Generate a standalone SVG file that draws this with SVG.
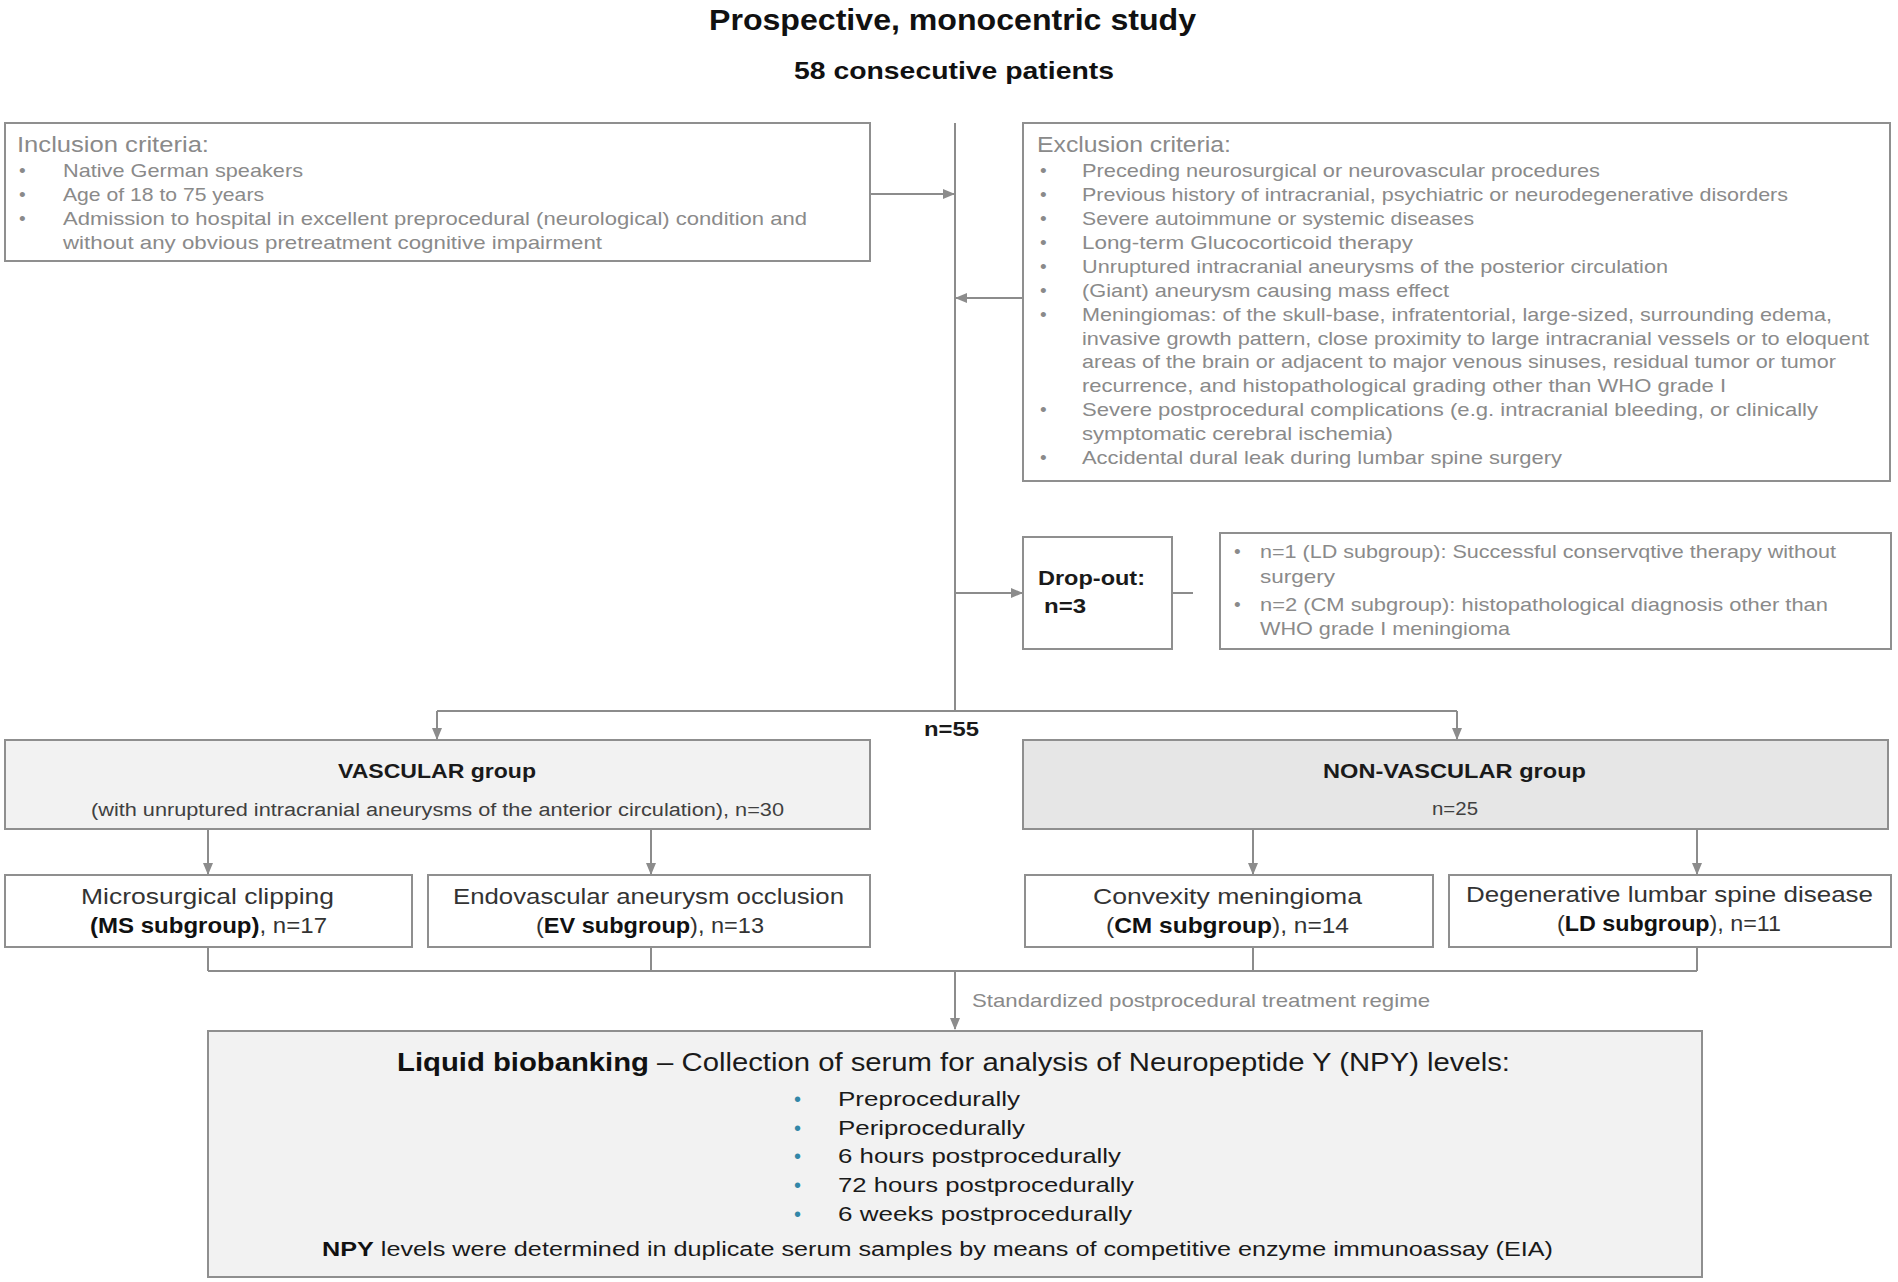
<svg xmlns="http://www.w3.org/2000/svg" width="1898" height="1282" viewBox="0 0 1898 1282">
<style>
  text { font-family: "Liberation Sans", Arial, sans-serif; }
  .box { fill: #ffffff; stroke: #8f8f8f; stroke-width: 2; }
  .grey1 { fill: #f2f2f2; }
  .grey2 { fill: #e6e6e6; }
  .conn { fill: none; stroke: #8c8c8c; stroke-width: 2; }
  .g { fill: #8a8a8a; font-size: 19px; }
  .gh { fill: #8a8a8a; font-size: 22px; }
  .title { fill: #111111; font-weight: bold; }
  .hb { fill: #1a1a1a; font-weight: bold; font-size: 21px; }
  .sub { fill: #404040; font-size: 18px; }
  .sg { fill: #333333; font-size: 22px; }
  .b { font-weight: bold; fill: #111111; }
  .bt { fill: #1a1a1a; font-size: 25px; }
  .bi { fill: #1a1a1a; font-size: 21px; }
  .bul { fill: #3287a8; font-size: 20px; }
  .ft { fill: #1a1a1a; font-size: 20px; }
</style>
<defs>
  <marker id="arr" markerWidth="12" markerHeight="10" refX="11" refY="5" orient="auto" markerUnits="userSpaceOnUse">
    <path d="M0,0 L12,5 L0,10 Z" fill="#8c8c8c"/>
  </marker>
</defs>
<rect width="1898" height="1282" fill="#ffffff"/>

<g id="title">
  <text class="title" x="709" y="30" font-size="30" textLength="487" lengthAdjust="spacingAndGlyphs">Prospective, monocentric study</text>
  <text class="title" x="794" y="79" font-size="24" textLength="320" lengthAdjust="spacingAndGlyphs">58 consecutive patients</text>
</g>

<g id="connectors">
  <path class="conn" d="M955 123 V711"/>
  <path class="conn" d="M870 194 H954" marker-end="url(#arr)"/>
  <path class="conn" d="M1023 298 H956" marker-end="url(#arr)"/>
  <path class="conn" d="M955 593 H1022" marker-end="url(#arr)"/>
  <path class="conn" d="M1172 593 H1193"/>
  <path class="conn" d="M437 711 H1457"/>
  <path class="conn" d="M437 711 V739" marker-end="url(#arr)"/>
  <path class="conn" d="M1457 711 V739" marker-end="url(#arr)"/>
  <path class="conn" d="M208 829 V874" marker-end="url(#arr)"/>
  <path class="conn" d="M651 829 V874" marker-end="url(#arr)"/>
  <path class="conn" d="M1253 829 V874" marker-end="url(#arr)"/>
  <path class="conn" d="M1697 829 V874" marker-end="url(#arr)"/>
  <path class="conn" d="M208 947 V971 M651 947 V971 M1253 947 V971 M1697 947 V971 M208 971 H1697"/>
  <path class="conn" d="M955 971 V1029" marker-end="url(#arr)"/>
  <text class="g" x="972" y="1007" font-size="18" textLength="458" lengthAdjust="spacingAndGlyphs">Standardized postprocedural treatment regime</text>
  <text class="hb" x="924" y="736" textLength="55" lengthAdjust="spacingAndGlyphs">n=55</text>
</g>

<g id="inclusion">
  <rect class="box" x="5" y="123" width="865" height="138"/>
  <text class="gh" x="17" y="152" textLength="192" lengthAdjust="spacingAndGlyphs">Inclusion criteria:</text>
  <text class="g" x="19" y="177">•</text>
  <text class="g" x="19" y="201">•</text>
  <text class="g" x="19" y="225">•</text>
  <text class="g" x="63" y="177" textLength="240" lengthAdjust="spacingAndGlyphs">Native German speakers</text>
  <text class="g" x="63" y="201" textLength="201" lengthAdjust="spacingAndGlyphs">Age of 18 to 75 years</text>
  <text class="g" x="63" y="225" textLength="744" lengthAdjust="spacingAndGlyphs">Admission to hospital in excellent preprocedural (neurological) condition and</text>
  <text class="g" x="63" y="249" textLength="539" lengthAdjust="spacingAndGlyphs">without any obvious pretreatment cognitive impairment</text>
</g>

<g id="exclusion">
  <rect class="box" x="1023" y="123" width="867" height="358"/>
  <text class="gh" x="1037" y="152" textLength="194" lengthAdjust="spacingAndGlyphs">Exclusion criteria:</text>
  <text class="g" x="1040" y="177">•</text>
  <text class="g" x="1040" y="201">•</text>
  <text class="g" x="1040" y="225">•</text>
  <text class="g" x="1040" y="249">•</text>
  <text class="g" x="1040" y="273">•</text>
  <text class="g" x="1040" y="297">•</text>
  <text class="g" x="1040" y="321">•</text>
  <text class="g" x="1040" y="416">•</text>
  <text class="g" x="1040" y="464">•</text>
  <text class="g" x="1082" y="177" textLength="518" lengthAdjust="spacingAndGlyphs">Preceding neurosurgical or neurovascular procedures</text>
  <text class="g" x="1082" y="201" textLength="706" lengthAdjust="spacingAndGlyphs">Previous history of intracranial, psychiatric or neurodegenerative disorders</text>
  <text class="g" x="1082" y="225" textLength="392" lengthAdjust="spacingAndGlyphs">Severe autoimmune or systemic diseases</text>
  <text class="g" x="1082" y="249" textLength="331" lengthAdjust="spacingAndGlyphs">Long-term Glucocorticoid therapy</text>
  <text class="g" x="1082" y="273" textLength="586" lengthAdjust="spacingAndGlyphs">Unruptured intracranial aneurysms of the posterior circulation</text>
  <text class="g" x="1082" y="297" textLength="367" lengthAdjust="spacingAndGlyphs">(Giant) aneurysm causing mass effect</text>
  <text class="g" x="1082" y="321" textLength="750" lengthAdjust="spacingAndGlyphs">Meningiomas: of the skull-base, infratentorial, large-sized, surrounding edema,</text>
  <text class="g" x="1082" y="345" textLength="787" lengthAdjust="spacingAndGlyphs">invasive growth pattern, close proximity to large intracranial vessels or to eloquent</text>
  <text class="g" x="1082" y="368" textLength="754" lengthAdjust="spacingAndGlyphs">areas of the brain or adjacent to major venous sinuses, residual tumor or tumor</text>
  <text class="g" x="1082" y="392" textLength="644" lengthAdjust="spacingAndGlyphs">recurrence, and histopathological grading other than WHO grade I</text>
  <text class="g" x="1082" y="416" textLength="736" lengthAdjust="spacingAndGlyphs">Severe postprocedural complications (e.g. intracranial bleeding, or clinically</text>
  <text class="g" x="1082" y="440" textLength="311" lengthAdjust="spacingAndGlyphs">symptomatic cerebral ischemia)</text>
  <text class="g" x="1082" y="464" textLength="480" lengthAdjust="spacingAndGlyphs">Accidental dural leak during lumbar spine surgery</text>
</g>

<g id="dropout">
  <rect class="box" x="1023" y="537" width="149" height="112"/>
  <text class="hb" x="1038" y="585" textLength="107" lengthAdjust="spacingAndGlyphs">Drop-out:</text>
  <text class="hb" x="1044" y="613" textLength="42" lengthAdjust="spacingAndGlyphs">n=3</text>
</g>

<g id="dropout-reasons">
  <rect class="box" x="1220" y="533" width="671" height="116"/>
  <text class="g" x="1234" y="558">•</text>
  <text class="g" x="1234" y="611">•</text>
  <text class="g" x="1260" y="558" textLength="576" lengthAdjust="spacingAndGlyphs">n=1 (LD subgroup): Successful conservqtive therapy without</text>
  <text class="g" x="1260" y="583" textLength="75" lengthAdjust="spacingAndGlyphs">surgery</text>
  <text class="g" x="1260" y="611" textLength="568" lengthAdjust="spacingAndGlyphs">n=2 (CM subgroup): histopathological diagnosis other than</text>
  <text class="g" x="1260" y="635" textLength="250" lengthAdjust="spacingAndGlyphs">WHO grade I meningioma</text>
</g>

<g id="vascular">
  <rect class="box grey1" x="5" y="740" width="865" height="89"/>
  <text class="hb" x="338" y="778" textLength="198" lengthAdjust="spacingAndGlyphs">VASCULAR group</text>
  <text class="sub" x="91" y="816" textLength="693" lengthAdjust="spacingAndGlyphs">(with unruptured intracranial aneurysms of the anterior circulation), n=30</text>
</g>

<g id="nonvascular">
  <rect class="box grey2" x="1023" y="740" width="865" height="89"/>
  <text class="hb" x="1323" y="778" textLength="263" lengthAdjust="spacingAndGlyphs">NON-VASCULAR group</text>
  <text class="sub" x="1432" y="815" textLength="46" lengthAdjust="spacingAndGlyphs">n=25</text>
</g>

<g id="ms">
  <rect class="box" x="5" y="875" width="407" height="72"/>
  <text class="sg" x="81" y="904" textLength="253" lengthAdjust="spacingAndGlyphs">Microsurgical clipping</text>
  <text class="sg" x="90" y="933" textLength="237" lengthAdjust="spacingAndGlyphs"><tspan class="b">(MS subgroup)</tspan>, n=17</text>
</g>

<g id="ev">
  <rect class="box" x="428" y="875" width="442" height="72"/>
  <text class="sg" x="453" y="904" textLength="391" lengthAdjust="spacingAndGlyphs">Endovascular aneurysm occlusion</text>
  <text class="sg" x="536" y="933" textLength="228" lengthAdjust="spacingAndGlyphs">(<tspan class="b">EV subgroup</tspan>), n=13</text>
</g>

<g id="cm">
  <rect class="box" x="1025" y="875" width="408" height="72"/>
  <text class="sg" x="1093" y="904" textLength="269" lengthAdjust="spacingAndGlyphs">Convexity meningioma</text>
  <text class="sg" x="1106" y="933" textLength="243" lengthAdjust="spacingAndGlyphs">(<tspan class="b">CM subgroup</tspan>), n=14</text>
</g>

<g id="ld">
  <rect class="box" x="1449" y="875" width="442" height="72"/>
  <text class="sg" x="1466" y="902" textLength="407" lengthAdjust="spacingAndGlyphs">Degenerative lumbar spine disease</text>
  <text class="sg" x="1557" y="931" textLength="224" lengthAdjust="spacingAndGlyphs">(<tspan class="b">LD subgroup</tspan>), n=11</text>
</g>

<g id="biobanking">
  <rect class="box grey1" x="208" y="1031" width="1494" height="246"/>
  <text class="bt" x="397" y="1071" textLength="1113" lengthAdjust="spacingAndGlyphs"><tspan class="b">Liquid biobanking</tspan> – Collection of serum for analysis of Neuropeptide Y (NPY) levels:</text>
  <text class="bul" x="794" y="1106">•</text>
  <text class="bul" x="794" y="1135">•</text>
  <text class="bul" x="794" y="1163">•</text>
  <text class="bul" x="794" y="1192">•</text>
  <text class="bul" x="794" y="1221">•</text>
  <text class="bi" x="838" y="1106" textLength="182" lengthAdjust="spacingAndGlyphs">Preprocedurally</text>
  <text class="bi" x="838" y="1135" textLength="187" lengthAdjust="spacingAndGlyphs">Periprocedurally</text>
  <text class="bi" x="838" y="1163" textLength="283" lengthAdjust="spacingAndGlyphs">6 hours postprocedurally</text>
  <text class="bi" x="838" y="1192" textLength="296" lengthAdjust="spacingAndGlyphs">72 hours postprocedurally</text>
  <text class="bi" x="838" y="1221" textLength="294" lengthAdjust="spacingAndGlyphs">6 weeks postprocedurally</text>
  <text class="ft" x="322" y="1256" textLength="1231" lengthAdjust="spacingAndGlyphs"><tspan class="b">NPY</tspan> levels were determined in duplicate serum samples by means of competitive enzyme immunoassay (EIA)</text>
</g>
</svg>
